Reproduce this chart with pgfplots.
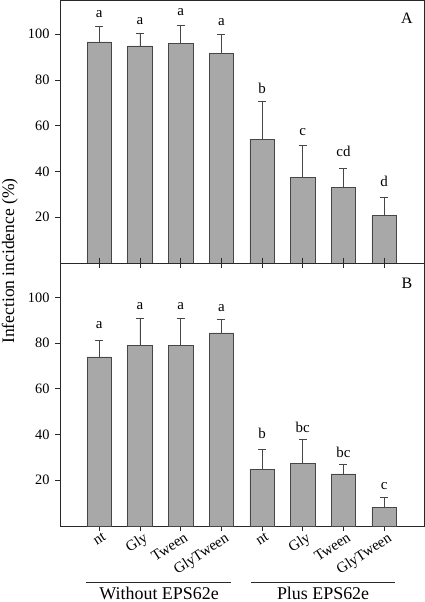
\documentclass[border=0pt]{standalone}
\usepackage{fontspec}
\setmainfont{Liberation Serif}
\usepackage{pgfplots}
\usepackage{pgfplotstable}
\pgfplotsset{compat=1.18}
\definecolor{barfill}{RGB}{168,168,168}
\definecolor{baredge}{RGB}{70,70,70}
\definecolor{axcol}{RGB}{40,40,40}
\pgfplotsset{
 panel/.style={
  scale only axis, width=364bp, height=263bp,
  xmin=0.035, xmax=8.98, ymin=0, ymax=115,
  axis line style={axcol, line width=0.9bp},
  ytick={20,40,60,80,100},
  xtick={1,...,8},
  tick align=outside, major tick length=5bp,
  tick style={axcol, line width=0.8bp},
  /pgf/number format/assume math mode=true,
  tick label style={font=\fontsize{14.4}{16}\selectfont},
  yticklabel style={xshift=-2bp},
  clip=false,
 },
 bars/.style={ybar, bar width=0.6, fill=barfill, draw=baredge, line width=0.6bp,
   error bars/.cd, y dir=plus, y explicit,
   error bar style={baredge, line width=0.8bp},
   error mark options={rotate=90, mark size=4bp, baredge, line width=0.8bp}},
 letters/.style={draw=none, mark=none, nodes near coords, point meta=explicit symbolic,
   nodes near coords style={anchor=base, inner sep=0pt, font=\fontsize{15}{17}\selectfont, black}},
}
\pgfplotstableread{
x y e
1 96.7 6.8
2 94.9 5.7
3 95.9 8.2
4 91.8 8.2
5 54.2 16.5
6 37.5 13.9
7 33.2 8.1
8 20.7 8.2
}\dataA
\pgfplotstableread{
x y lab
1 107.2 a
2 104.3 a
3 108.4 a
4 103.9 a
5 74.3 b
6 55.6 c
7 46.6 cd
8 33.4 d
}\lettersA
\pgfplotstableread{
x y e
1 73.9 7.4
2 79.1 11.7
3 79.1 11.7
4 84.4 6.1
5 24.8 8.5
6 27.2 10.6
7 22.8 4.2
8 8.2 4.1
}\dataB
\pgfplotstableread{
x y lab
1 86.2 a
2 94.6 a
3 94.6 a
4 93.6 a
5 38.1 b
6 40.9 bc
7 29.9 bc
8 15.8 c
}\lettersB
\begin{document}
\begin{tikzpicture}
\begin{axis}[panel, name=A, at={(60bp,339bp)}, anchor=south west, xticklabels={}]
\addplot[bars] table[x=x, y=y, y error=e] {\dataA};
\addplot[letters] table[x=x, y=y, meta=lab] {\lettersA};
\node[font=\fontsize{16}{18}\selectfont] at (rel axis cs:0.953,0.93) {A};
\end{axis}
\begin{axis}[panel, name=B, at={(60bp,76bp)}, anchor=south west,
  xticklabels={nt,Gly,Tween,GlyTween,nt,Gly,Tween,GlyTween},
  xticklabel style={rotate=33, anchor=north east, inner sep=1bp, xshift=3bp, yshift=-1bp, font=\fontsize{15}{17}\selectfont}]
\addplot[bars] table[x=x, y=y, y error=e] {\dataB};
\addplot[letters] table[x=x, y=y, meta=lab] {\lettersB};
\node[font=\fontsize{16}{18}\selectfont] at (rel axis cs:0.953,0.924) {B};
\draw[axcol, line width=0.8bp] (axis cs:0.674,-24.5) -- (axis cs:4.24,-24.5);
\draw[axcol, line width=0.8bp] (axis cs:4.73,-24.5) -- (axis cs:8.27,-24.5);
\node[anchor=base, inner sep=0pt, font=\fontsize{18}{20}\selectfont] at (axis cs:2.47,-32.2) {Without EPS62e};
\node[anchor=base, inner sep=0pt, font=\fontsize{18}{20}\selectfont] at (axis cs:6.5,-32.2) {Plus EPS62e};
\end{axis}
\node[rotate=90, anchor=base, font=\fontsize{17.6}{20}\selectfont] at (14bp,341bp) {Infection incidence (\%)};
\pgfresetboundingbox
\path (0,0) rectangle (425bp,602bp);
\end{tikzpicture}
\end{document}
